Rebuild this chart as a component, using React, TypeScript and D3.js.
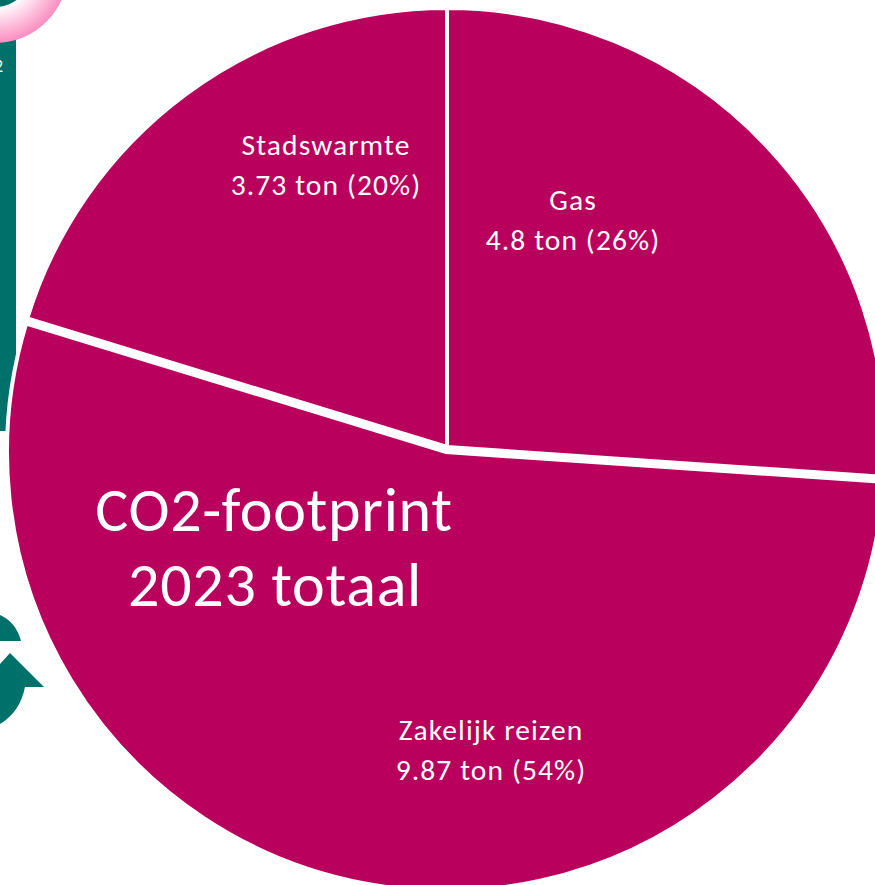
import React from "react";
import * as d3 from "d3";

const categories = ["Gas", "Zakelijk reizen", "Stadswarmte"];
const values = [4.8, 9.87, 3.73];
const valueLabels = ["4.8 ton (26%)", "9.87 ton (54%)", "3.73 ton (20%)"];
const title = ["CO2-footprint", "2023 totaal"];
const labelPositions = [[573, 201, 241], [491, 731, 771], [326, 146, 186]];
const offsets = [[0, 0], [-1, 5], [0, 0]];

const W = 875, H = 885, R = 439;
const CX = 447, CY = 447;
const MAGENTA = "#b8005c";
const TEAL = "#00716a";

export default function App() {
  const arcs = d3.pie<number>().sort(null)(values);
  const arc = d3.arc<d3.PieArcDatum<number>>().innerRadius(0).outerRadius(R);
  const font = "Carlito, Lato, sans-serif";
  return (
    <svg width={W} height={H} viewBox={`0 0 ${W} ${H}`} style={{ position: "absolute", left: 0, top: 0, background: "#fff" }}>
      <defs>
        <radialGradient id="ring" gradientUnits="userSpaceOnUse" cx={-5} cy={-30} r={73}>
          <stop offset="0.5" stopColor="#ffffff" />
          <stop offset="1" stopColor="#fb8cc0" />
        </radialGradient>
      </defs>
      <rect x={0} y={30} width={16} height={401} fill={TEAL} />
      <circle cx={-5} cy={-30} r={73} fill="url(#ring)" />
      <circle cx={-5} cy={-30} r={37} fill={TEAL} />
      <text x={-6} y={72} fill="#fff" fontFamily={font} fontSize={18}>2</text>
      <path d="M0,615 Q16,622 21,641 L0,641 Z" fill={TEAL} />
      <path d="M0,664 L10,653 L44,687 L25,687 Q20,712 0,724 Z" fill={TEAL} />
      {arcs.map((d, i) => (
        <path
          key={categories[i]}
          d={arc(d) ?? ""}
          transform={`translate(${CX + offsets[i][0]},${CY + offsets[i][1]})`}
          fill={MAGENTA}
          stroke="#fff"
          strokeWidth={4}
          strokeLinejoin="miter"
        />
      ))}
      {categories.map((c, i) => (
        <g key={c} fill="#fff" fontFamily={font} fontSize={29.5} letterSpacing={1.1} textAnchor="middle">
          <text x={labelPositions[i][0]} y={labelPositions[i][1] + 9}>{c}</text>
          <text x={labelPositions[i][0]} y={labelPositions[i][2] + 9}>{valueLabels[i]}</text>
        </g>
      ))}
      <g fill="#fff" fontFamily={font} fontSize={62} letterSpacing={0.7} textAnchor="middle">
        <text x={274} y={531}>{title[0]}</text>
        <text x={275} y={606}>{title[1]}</text>
      </g>
    </svg>
  );
}
